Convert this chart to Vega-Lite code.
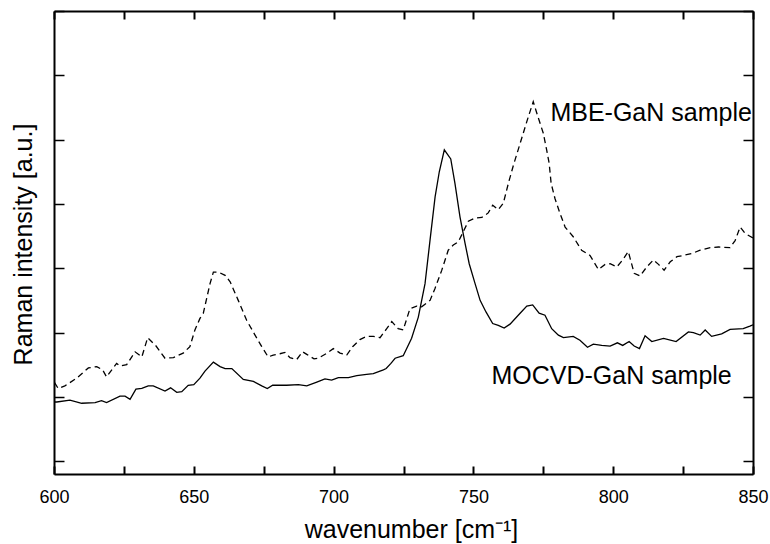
{
  "$schema": "https://vega.github.io/schema/vega-lite/v6.json",
  "width": 699,
  "height": 463,
  "autosize": {"type": "none"},
  "padding": {"left": 54, "top": 11, "right": 17, "bottom": 70},
  "background": "white",
  "config": {"view": {"stroke": null}, "font": "Liberation Sans"},
  "datasets": {
    "mocvd": [
      {"wn": 600, "v": 0.92}, {"wn": 601, "v": 0.92}, {"wn": 605.7, "v": 0.95}, {"wn": 609.9, "v": 0.9},
      {"wn": 614.7, "v": 0.91}, {"wn": 617, "v": 0.94}, {"wn": 618.8, "v": 0.91}, {"wn": 623.6, "v": 1.01},
      {"wn": 625.4, "v": 1.01}, {"wn": 627.2, "v": 0.96}, {"wn": 629.3, "v": 1.12}, {"wn": 631.4, "v": 1.13},
      {"wn": 633.7, "v": 1.17}, {"wn": 635.5, "v": 1.17}, {"wn": 639.7, "v": 1.09}, {"wn": 641.7, "v": 1.14},
      {"wn": 643.9, "v": 1.07}, {"wn": 645.7, "v": 1.08}, {"wn": 648, "v": 1.18}, {"wn": 650, "v": 1.19},
      {"wn": 652.2, "v": 1.29}, {"wn": 654, "v": 1.4}, {"wn": 657, "v": 1.54}, {"wn": 659.4, "v": 1.47},
      {"wn": 661.2, "v": 1.44}, {"wn": 663.6, "v": 1.44}, {"wn": 667.7, "v": 1.27}, {"wn": 671.3, "v": 1.24},
      {"wn": 674.3, "v": 1.17}, {"wn": 676.3, "v": 1.13}, {"wn": 678.2, "v": 1.18}, {"wn": 683.2, "v": 1.18},
      {"wn": 687.4, "v": 1.19}, {"wn": 690.4, "v": 1.17}, {"wn": 694, "v": 1.23}, {"wn": 696.9, "v": 1.28},
      {"wn": 699.3, "v": 1.26}, {"wn": 701.7, "v": 1.3}, {"wn": 705.3, "v": 1.3}, {"wn": 708.3, "v": 1.33},
      {"wn": 711.8, "v": 1.35}, {"wn": 714.2, "v": 1.36}, {"wn": 717.8, "v": 1.42}, {"wn": 718.8, "v": 1.44},
      {"wn": 720.5, "v": 1.52}, {"wn": 722, "v": 1.6}, {"wn": 724.9, "v": 1.64}, {"wn": 727.9, "v": 1.91},
      {"wn": 730.3, "v": 2.24}, {"wn": 732.7, "v": 2.76}, {"wn": 734.5, "v": 3.44}, {"wn": 736.3, "v": 4.11},
      {"wn": 737.8, "v": 4.5}, {"wn": 739.6, "v": 4.84}, {"wn": 741.9, "v": 4.7}, {"wn": 743.4, "v": 4.32},
      {"wn": 745.2, "v": 3.8}, {"wn": 747, "v": 3.39}, {"wn": 748.5, "v": 3.07}, {"wn": 750.6, "v": 2.76},
      {"wn": 752.4, "v": 2.5}, {"wn": 754.5, "v": 2.32}, {"wn": 756.9, "v": 2.14}, {"wn": 758.9, "v": 2.11},
      {"wn": 761, "v": 2.07}, {"wn": 763.1, "v": 2.13}, {"wn": 766.7, "v": 2.3}, {"wn": 769.1, "v": 2.41},
      {"wn": 771.2, "v": 2.43}, {"wn": 773.5, "v": 2.3}, {"wn": 775.6, "v": 2.27}, {"wn": 778, "v": 2.06},
      {"wn": 780.4, "v": 1.96}, {"wn": 782.2, "v": 1.92}, {"wn": 785.7, "v": 1.94}, {"wn": 788.1, "v": 1.88},
      {"wn": 790.8, "v": 1.77}, {"wn": 792.9, "v": 1.82}, {"wn": 795.9, "v": 1.8}, {"wn": 798.9, "v": 1.79},
      {"wn": 801.5, "v": 1.84}, {"wn": 803.4, "v": 1.8}, {"wn": 805.7, "v": 1.86}, {"wn": 807.5, "v": 1.79},
      {"wn": 809.4, "v": 1.75}, {"wn": 811.4, "v": 1.95}, {"wn": 813.8, "v": 1.86}, {"wn": 818, "v": 1.91},
      {"wn": 822.5, "v": 1.86}, {"wn": 826.9, "v": 2.01}, {"wn": 828.7, "v": 2.0}, {"wn": 831.1, "v": 1.96},
      {"wn": 832.9, "v": 2.04}, {"wn": 835.2, "v": 1.94}, {"wn": 838.8, "v": 1.98}, {"wn": 841.8, "v": 2.05},
      {"wn": 846.5, "v": 2.06}, {"wn": 848.9, "v": 2.1}, {"wn": 850, "v": 2.12}
    ],
    "mbe": [
      {"wn": 600.2, "v": 1.22}, {"wn": 601.5, "v": 1.13}, {"wn": 603.9, "v": 1.17}, {"wn": 608.1, "v": 1.29},
      {"wn": 612.3, "v": 1.45}, {"wn": 615.3, "v": 1.47}, {"wn": 617.4, "v": 1.42}, {"wn": 618.8, "v": 1.31},
      {"wn": 622.4, "v": 1.52}, {"wn": 623.6, "v": 1.48}, {"wn": 626, "v": 1.5}, {"wn": 629, "v": 1.7},
      {"wn": 631.4, "v": 1.62}, {"wn": 633.5, "v": 1.92}, {"wn": 636.5, "v": 1.79}, {"wn": 639.7, "v": 1.6},
      {"wn": 642.7, "v": 1.61}, {"wn": 646.2, "v": 1.68}, {"wn": 648.6, "v": 1.78}, {"wn": 650.4, "v": 2.04},
      {"wn": 652.2, "v": 2.22}, {"wn": 653.4, "v": 2.3}, {"wn": 655.8, "v": 2.76}, {"wn": 657, "v": 2.94},
      {"wn": 658.8, "v": 2.94}, {"wn": 661.2, "v": 2.89}, {"wn": 663, "v": 2.79}, {"wn": 665.9, "v": 2.5},
      {"wn": 668.9, "v": 2.19}, {"wn": 671.9, "v": 1.96}, {"wn": 674.3, "v": 1.78}, {"wn": 676.6, "v": 1.62},
      {"wn": 678.4, "v": 1.65}, {"wn": 680.8, "v": 1.67}, {"wn": 682.6, "v": 1.69}, {"wn": 684.4, "v": 1.61},
      {"wn": 686.8, "v": 1.58}, {"wn": 688.9, "v": 1.7}, {"wn": 690.4, "v": 1.66}, {"wn": 693, "v": 1.59},
      {"wn": 694.5, "v": 1.6}, {"wn": 697.3, "v": 1.67}, {"wn": 699.9, "v": 1.75}, {"wn": 702.3, "v": 1.68},
      {"wn": 704.7, "v": 1.65}, {"wn": 706.8, "v": 1.78}, {"wn": 709.4, "v": 1.89}, {"wn": 711.8, "v": 1.94},
      {"wn": 714.2, "v": 1.94}, {"wn": 716.6, "v": 1.92}, {"wn": 719, "v": 2.06}, {"wn": 720.8, "v": 2.17},
      {"wn": 723.1, "v": 2.06}, {"wn": 724.9, "v": 2.04}, {"wn": 727.3, "v": 2.37}, {"wn": 729.7, "v": 2.41},
      {"wn": 731.5, "v": 2.4}, {"wn": 734.5, "v": 2.5}, {"wn": 736.3, "v": 2.69}, {"wn": 738.7, "v": 2.97},
      {"wn": 741, "v": 3.28}, {"wn": 742.8, "v": 3.36}, {"wn": 744.6, "v": 3.41}, {"wn": 746.4, "v": 3.57},
      {"wn": 748.2, "v": 3.73}, {"wn": 750.6, "v": 3.78}, {"wn": 753, "v": 3.79}, {"wn": 755.3, "v": 3.86},
      {"wn": 756.9, "v": 3.98}, {"wn": 758.9, "v": 3.91}, {"wn": 760.7, "v": 4.01}, {"wn": 762.5, "v": 4.32},
      {"wn": 764.3, "v": 4.6}, {"wn": 766.7, "v": 4.94}, {"wn": 769.1, "v": 5.28}, {"wn": 771.4, "v": 5.59},
      {"wn": 772.9, "v": 5.38}, {"wn": 775, "v": 5.1}, {"wn": 776.2, "v": 4.84}, {"wn": 777.1, "v": 4.63},
      {"wn": 777.8, "v": 4.32}, {"wn": 779.2, "v": 4.08}, {"wn": 781, "v": 3.85}, {"wn": 782.8, "v": 3.64},
      {"wn": 785.7, "v": 3.49}, {"wn": 788.7, "v": 3.28}, {"wn": 791.7, "v": 3.2}, {"wn": 794.7, "v": 2.98},
      {"wn": 797.1, "v": 3.06}, {"wn": 798.9, "v": 3.07}, {"wn": 801.3, "v": 3.02}, {"wn": 803.4, "v": 3.13},
      {"wn": 805.4, "v": 3.26}, {"wn": 807.5, "v": 2.92}, {"wn": 809.6, "v": 2.88}, {"wn": 812, "v": 3.02},
      {"wn": 814.4, "v": 3.13}, {"wn": 816.2, "v": 3.06}, {"wn": 818.2, "v": 2.97}, {"wn": 820.4, "v": 3.1},
      {"wn": 822.8, "v": 3.18}, {"wn": 825.2, "v": 3.2}, {"wn": 828.2, "v": 3.23}, {"wn": 831.1, "v": 3.28},
      {"wn": 834.7, "v": 3.32}, {"wn": 837.7, "v": 3.33}, {"wn": 841.8, "v": 3.32}, {"wn": 843.6, "v": 3.43},
      {"wn": 845.4, "v": 3.64}, {"wn": 847.2, "v": 3.54}, {"wn": 850, "v": 3.47}
    ],
    "labels": [
      {"label": "MBE-GaN sample", "wn": 849.6, "v": 5.29},
      {"label": "MOCVD-GaN sample", "wn": 842.4, "v": 1.205}
    ]
  },
  "resolve": {"axis": {"x": "independent", "y": "independent"}},
  "layer": [
    {
      "data": {"name": "mocvd"},
      "mark": {"type": "line", "color": "black", "strokeWidth": 1.3, "clip": true},
      "encoding": {
        "x": {
          "field": "wn", "type": "quantitative",
          "scale": {"domain": [600, 850], "nice": false, "zero": false},
          "axis": {
            "orient": "bottom",
            "values": [600, 625, 650, 675, 700, 725, 750, 775, 800, 825, 850],
            "labelExpr": "datum.value % 50 === 0 ? datum.label : ''",
            "tickSize": -8, "tickColor": "black", "tickWidth": 2, "tickOpacity": 1,
            "domainColor": "black", "domainWidth": 2,
            "grid": false,
            "labelFont": "Liberation Sans", "labelFontSize": 18, "labelColor": "black",
            "labelPadding": 22, "labelFlush": false, "labelOverlap": false,
            "title": "wavenumber [cm⁻¹]",
            "titleFont": "Liberation Sans", "titleFontSize": 25, "titleFontWeight": "normal", "titleColor": "black",
            "titleX": 357, "titleY": 63, "titleBaseline": "alphabetic", "titleAlign": "center"
          }
        },
        "y": {
          "field": "v", "type": "quantitative",
          "scale": {"domain": [-0.2, 7], "nice": false, "zero": false},
          "axis": {
            "orient": "left",
            "values": [0, 1, 2, 3, 4, 5, 6, 7],
            "labels": false,
            "tickSize": -10, "tickColor": "black", "tickWidth": 1.5,
            "domainColor": "black", "domainWidth": 2,
            "grid": false,
            "title": "Raman intensity [a.u.]",
            "titleFont": "Liberation Sans", "titleFontSize": 25, "titleFontWeight": "normal", "titleColor": "black",
            "titleAngle": -90, "titleX": -23, "titleY": 233, "titleBaseline": "alphabetic", "titleAlign": "center"
          }
        }
      }
    },
    {
      "data": {"name": "mbe"},
      "mark": {"type": "line", "color": "black", "strokeWidth": 1.3, "strokeDash": [6, 4], "clip": true},
      "encoding": {
        "x": {
          "field": "wn", "type": "quantitative",
          "axis": {
            "orient": "top",
            "values": [600, 625, 650, 675, 700, 725, 750, 775, 800, 825, 850],
            "labels": false,
            "tickSize": -8, "tickColor": "black", "tickWidth": 2, "tickOpacity": 1,
            "domainColor": "black", "domainWidth": 2,
            "grid": false, "title": null
          }
        },
        "y": {
          "field": "v", "type": "quantitative",
          "axis": {
            "orient": "right",
            "values": [0, 1, 2, 3, 4, 5, 6, 7],
            "labels": false,
            "tickSize": -10, "tickColor": "black", "tickWidth": 1.5,
            "domainColor": "black", "domainWidth": 2,
            "grid": false, "title": null
          }
        }
      }
    },
    {
      "data": {"name": "labels"},
      "mark": {"type": "text", "align": "right", "baseline": "alphabetic", "font": "Liberation Sans", "fontSize": 25, "color": "black"},
      "encoding": {
        "x": {"field": "wn", "type": "quantitative", "axis": null},
        "y": {"field": "v", "type": "quantitative", "axis": null},
        "text": {"field": "label"}
      }
    }
  ]
}
